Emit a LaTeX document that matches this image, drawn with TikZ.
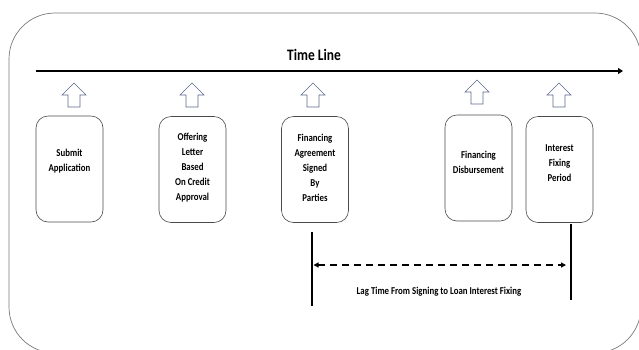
\documentclass[tikz,border=0pt]{standalone}
\usepackage{fontspec}
\newfontfamily\cfont{Carlito}[FakeStretch=0.84]
\usetikzlibrary{arrows.meta}
\definecolor{outerc}{HTML}{7A7A7A}
\definecolor{boxc}{HTML}{4A4A4A}
\definecolor{arrc}{HTML}{5A6A8C}
\tikzset{
  stagebox/.style={draw=boxc, line width=0.6pt, rounded corners=12pt,
    minimum width=67pt, minimum height=106pt, inner sep=0pt},
  stagetext/.style={font=\cfont\bfseries\fontsize{10.5}{15}\selectfont,
    align=center, inner sep=0pt, text=black},
  arrowline/.style={draw=arrc, line width=0.6pt, line join=miter},
  uparrow/.pic={\draw[arrowline] (-6,12) -- (-6,0) -- (-12,0) -- (0,-12) -- (12,0) -- (6,0) -- (6,12) -- cycle;},
  markline/.style={draw=black, line width=1.2pt},
}
\begin{document}
\begin{tikzpicture}[x=1pt,y=-1pt]
\useasboundingbox (0,0) rectangle (639,349);
\clip (0,0) rectangle (639,349);
% outer frame
\draw[outerc, line width=0.7pt, rounded corners=46pt] (9,13) rectangle (641,353);
% title and time line
\node[font=\cfont\bfseries\fontsize{16}{18}\selectfont, inner sep=0pt] (title) at (314,55) {Time Line};
\coordinate (tl0) at (36,71);
\coordinate (tl1) at (623,71);
\draw[line width=2pt, -{Triangle[length=5pt,width=6pt]}] (tl0) -- (tl1);
% stage boxes
\node[stagebox] (b1) at (69.5,169) {};
\node[stagebox] (b2) at (192.5,169.5) {};
\node[stagebox] (b3) at (315,169.5) {};
\node[stagebox] (b4) at (478.5,168) {};
\node[stagebox] (b5) at (559.5,169.5) {};
% texts
\node[stagetext] (t1) at (69.5,161) {Submit\\Application};
\node[stagetext] (t2) at (192.5,168) {Offering\\Letter\\Based\\On Credit\\Approval};
\node[stagetext] (t3) at (315,168) {Financing\\Agreement\\Signed\\By\\Parties};
\node[stagetext] (t4) at (478.5,162) {Financing\\Disbursement};
\node[stagetext] (t5) at (559.5,163) {Interest\\Fixing\\Period};
% hollow up arrows
\pic at (74,95) {uparrow};
\pic at (192,95) {uparrow};
\pic at (313,95) {uparrow};
\pic at (477,92) {uparrow};
\pic at (559,95) {uparrow};
% lag markers
\coordinate (l0) at (312,232);
\coordinate (l1) at (312,306);
\coordinate (r0) at (571,224);
\coordinate (r1) at (571,300);
\draw[markline] (l0) -- (l1);
\draw[markline] (r0) -- (r1);
\coordinate (d0) at (313.5,265);
\coordinate (d1) at (566,265);
\draw[line width=1.3pt, dash pattern=on 7pt off 5pt,
  {Triangle[length=5pt,width=5pt]}-{Triangle[length=5pt,width=5pt]}] (d0) -- (d1);
\node[font=\cfont\bfseries\fontsize{10.5}{12}\selectfont, inner sep=0pt] (lag) at (439,292) {Lag Time From Signing to Loan Interest Fixing};
\end{tikzpicture}
\end{document}
